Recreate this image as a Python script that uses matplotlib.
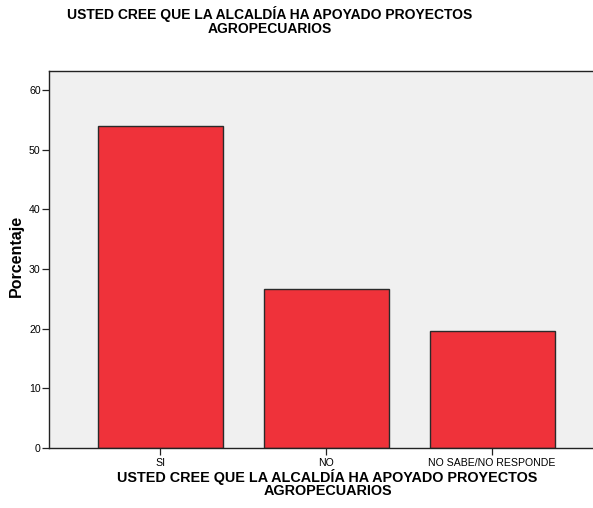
import matplotlib
matplotlib.use("Agg")
import matplotlib.pyplot as plt

categorias = ["SI", "NO", "NO SABE/NO RESPONDE"]
porcentajes = [53.9, 26.6, 19.6]
yticks = [0, 10, 20, 30, 40, 50, 60]
titulo = "USTED CREE QUE LA ALCALDÍA HA APOYADO PROYECTOS\nAGROPECUARIOS"

plt.rcParams['font.family'] = ['Liberation Sans', 'DejaVu Sans']

fig = plt.figure(figsize=(5.93, 5.08), dpi=100)
ax = fig.add_axes([0.0826, 0.1181, 0.9174, 0.7421])
ax.set_facecolor("#f0f0f0")

x = list(range(len(categorias)))
ax.bar(x, porcentajes, width=0.753, color="#ef323a", edgecolor="#2a2a2a", linewidth=1.0)

ax.set_xlim(-0.669, 2.608)
ax.set_ylim(0, 63.2)
ax.set_yticks(yticks)
ax.set_xticks(x)
ax.set_xticklabels(categorias)
ax.tick_params(axis="both", labelsize=7.6, length=5, width=0.9, color="#222222")
ax.tick_params(axis="x", pad=2)
ax.tick_params(axis="y", pad=1)

for s in ["left", "top", "bottom"]:
    ax.spines[s].set_color("#222222")
    ax.spines[s].set_linewidth(1.0)
ax.spines["right"].set_visible(False)

# etiquetas de ejes
ax.set_ylabel("Porcentaje", fontsize=11.5, fontweight="bold")
ax.yaxis.set_label_coords(-0.046, 0.51)
ax.set_xlabel(titulo, fontsize=10.4, fontweight="bold", labelpad=1, linespacing=0.92)
ax.xaxis.set_label_coords(0.512, -0.055)
fig.text(0.455, 0.988, titulo, ha="center", va="top", fontsize=10,
         fontweight="bold", linespacing=0.95)

fig.savefig("out.png", dpi=100)
